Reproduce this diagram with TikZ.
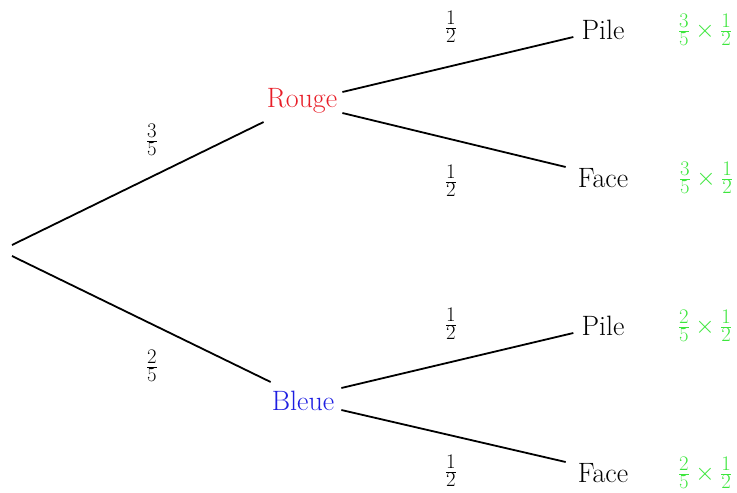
\documentclass[tikz,border=0pt]{standalone}
\usepackage{amsmath}
\usetikzlibrary{calc}
\definecolor{rouge}{RGB}{232,30,40}
\definecolor{bleue}{RGB}{30,30,225}
\definecolor{vert}{RGB}{60,230,60}
\begin{document}
\begin{tikzpicture}[x=1pt,y=-1pt,
  every node/.style={font=\fontsize{28}{32}\selectfont},
  branch/.style={line width=1.8pt,black},
  evt/.style={inner sep=0pt},
  prob/.style={inner sep=0pt,font=\fontsize{30}{34}\selectfont},
  prod/.style={inner sep=0pt,text=vert,font=\fontsize{29}{34}\selectfont}]
\useasboundingbox (0,0) rectangle (737,493);
\coordinate (root) at (12,250);
\node[evt,text=rouge] (R) at (302,101) {Rouge};
\node[evt,text=bleue] (B) at (303,401) {Bleue};
\node[evt] (RP) at (603,30) {Pile};
\node[evt] (RF) at (603,178) {Face};
\node[evt] (BP) at (603,326) {Pile};
\node[evt] (BF) at (603,473) {Face};
\draw[branch] ($(root)+(0,-5)$) -- ($(R.west)+(-3,21)$);
\draw[branch] ($(root)+(0,6)$) -- ($(B.west)+(-1,-19)$);
\draw[branch] ($(R.east)+(5,-9)$) -- ($(RP.west)+(-8,7)$);
\draw[branch] ($(R.east)+(5,12)$) -- ($(RF.west)+(-12,-11)$);
\draw[branch] ($(B.east)+(7,-13)$) -- ($(BP.west)+(-8,7)$);
\draw[branch] ($(B.east)+(7,9)$) -- ($(BF.west)+(-12,-11)$);
\node[prob] (l1) at (152,140) {$\frac{3}{5}$};
\node[prob] (l2) at (152,366) {$\frac{2}{5}$};
\node[prob] (l3) at (451,27) {$\frac{1}{2}$};
\node[prob] (l4) at (451,181) {$\frac{1}{2}$};
\node[prob] (l5) at (451,324) {$\frac{1}{2}$};
\node[prob] (l6) at (451,471) {$\frac{1}{2}$};
\node[prod] (p1) at (705,30) {$\frac{3}{5}\times\frac{1}{2}$};
\node[prod] (p2) at (706,178) {$\frac{3}{5}\times\frac{1}{2}$};
\node[prod] (p3) at (705,326) {$\frac{2}{5}\times\frac{1}{2}$};
\node[prod] (p4) at (705,473) {$\frac{2}{5}\times\frac{1}{2}$};
\end{tikzpicture}
\end{document}
